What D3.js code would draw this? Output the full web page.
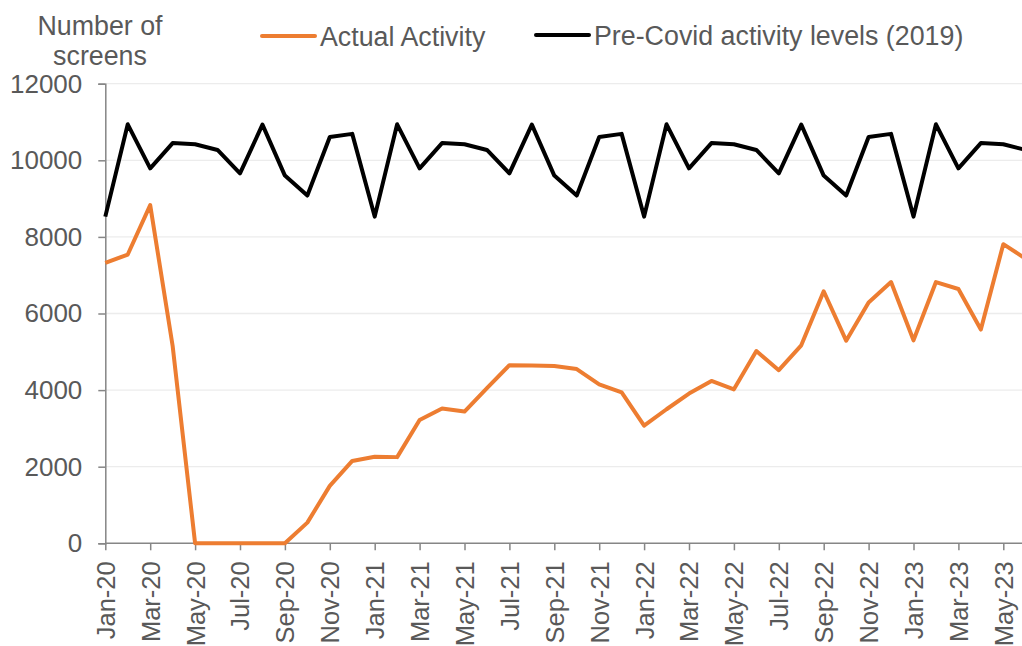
<!DOCTYPE html>
<html>
<head>
<meta charset="utf-8">
<script src="https://cdn.jsdelivr.net/npm/d3@7"></script>
<style>
  body { margin: 0; background: #fff; }
  svg { display: block; font-family: "Liberation Sans", Arial, sans-serif; }
</style>
</head>
<body>
<svg id="chart" width="1022" height="646"></svg>
<script>
// months shown on the x axis (Jan-20 .. Jun-23)
const months = [
  "Jan-20","Feb-20","Mar-20","Apr-20","May-20","Jun-20","Jul-20","Aug-20","Sep-20","Oct-20","Nov-20","Dec-20",
  "Jan-21","Feb-21","Mar-21","Apr-21","May-21","Jun-21","Jul-21","Aug-21","Sep-21","Oct-21","Nov-21","Dec-21",
  "Jan-22","Feb-22","Mar-22","Apr-22","May-22","Jun-22","Jul-22","Aug-22","Sep-22","Oct-22","Nov-22","Dec-22",
  "Jan-23","Feb-23","Mar-23","Apr-23","May-23","Jun-23"
];

const actual = [
  7320, 7540, 8830, 5150, 0, 0, 0, 0, 0, 540, 1500, 2150,
  2260, 2250, 3220, 3520, 3440, 4050, 4650, 4640, 4630, 4550, 4150, 3940,
  3070, 3500, 3910, 4240, 4020, 5020, 4520, 5170, 6580, 5290, 6290, 6820,
  5300, 6820, 6640, 5580, 7810, 7430
];

const preCovid = [
  8530, 10940, 9790, 10450, 10420, 10270, 9660, 10930, 9600, 9080, 10610, 10690,
  8530, 10940, 9790, 10450, 10420, 10270, 9660, 10930, 9600, 9080, 10610, 10690,
  8530, 10940, 9790, 10450, 10420, 10270, 9660, 10930, 9600, 9080, 10610, 10690,
  8530, 10940, 9790, 10450, 10420, 10270
];

const yTicks = [0, 2000, 4000, 6000, 8000, 10000, 12000];

const series = [
  { name: "Actual Activity", values: actual, color: "#ED7D31" },
  { name: "Pre-Covid activity levels (2019)", values: preCovid, color: "#000000" }
];

const svg = d3.select("#chart");
const textColor = "#595959";
const axisColor = "#868686";
const fontSize = 26.8;

const x = d3.scaleLinear().domain([0, months.length - 1]).range([105.3, 105.3 + 22.45 * (months.length - 1)]);
const y = d3.scaleLinear().domain([0, 12000]).range([543.3, 83.7]);

// gridlines
svg.append("g")
  .selectAll("line")
  .data(yTicks.filter(d => d > 0))
  .join("line")
  .attr("x1", x(0)).attr("x2", 1022)
  .attr("y1", d => y(d)).attr("y2", d => y(d))
  .attr("stroke", "#ececec").attr("stroke-width", 1.3);

// y axis
const yAxis = svg.append("g")
  .attr("transform", `translate(${x(0)},0)`)
  .call(d3.axisLeft(y).tickValues(yTicks).tickSize(7).tickPadding(16).tickFormat(d3.format("d")));
yAxis.select(".domain").attr("stroke", axisColor).attr("stroke-width", 1.5);
yAxis.selectAll(".tick line").attr("stroke", axisColor).attr("stroke-width", 1.5);
yAxis.selectAll(".tick text")
  .attr("fill", textColor).attr("font-size", 26)
  .attr("font-family", "Liberation Sans, Arial, sans-serif");

// x axis, a tick every second month
const xTicks = d3.range(0, months.length, 2);
const xAxis = svg.append("g")
  .attr("transform", `translate(0,${y(0)})`)
  .call(d3.axisBottom(x).tickValues(xTicks).tickSize(7).tickSizeOuter(0).tickFormat(i => months[i]));
xAxis.select(".domain").attr("stroke", axisColor).attr("stroke-width", 1.5)
  .attr("d", `M${x(0)},0H1022`);
xAxis.selectAll(".tick line").attr("stroke", axisColor).attr("stroke-width", 1.5);
xAxis.selectAll(".tick text")
  .attr("fill", textColor).attr("font-size", 25.5)
  .attr("font-family", "Liberation Sans, Arial, sans-serif")
  .attr("text-anchor", "end")
  .attr("transform", "rotate(-90)")
  .attr("x", -18).attr("y", 0).attr("dy", "0.35em");

// lines
const line = d3.line().x((d, i) => x(i)).y(d => y(d));
svg.append("g")
  .selectAll("path")
  .data([series[1], series[0]])
  .join("path")
  .attr("d", d => line(d.values))
  .attr("fill", "none")
  .attr("stroke", d => d.color)
  .attr("stroke-width", 4)
  .attr("stroke-linejoin", "round");

// y axis title
svg.append("text")
  .attr("x", 100).attr("y", 35)
  .attr("text-anchor", "middle")
  .attr("fill", textColor).attr("font-size", fontSize)
  .selectAll("tspan")
  .data(["Number of", "screens"])
  .join("tspan")
  .attr("x", 100)
  .attr("dy", (d, i) => i ? 30 : 0)
  .text(d => d);

// legend
const legendPos = [{ x: 262, y: 36 }, { x: 536, y: 35 }];
const legend = svg.append("g")
  .selectAll("g")
  .data(series)
  .join("g")
  .attr("transform", (d, i) => `translate(${legendPos[i].x},${legendPos[i].y})`);
legend.append("line")
  .attr("x1", 0).attr("x2", 53)
  .attr("stroke", d => d.color).attr("stroke-width", 4).attr("stroke-linecap", "round");
legend.append("text")
  .attr("x", 58).attr("y", 9.5)
  .attr("fill", textColor).attr("font-size", fontSize)
  .text(d => d.name);
</script>
</body>
</html>
